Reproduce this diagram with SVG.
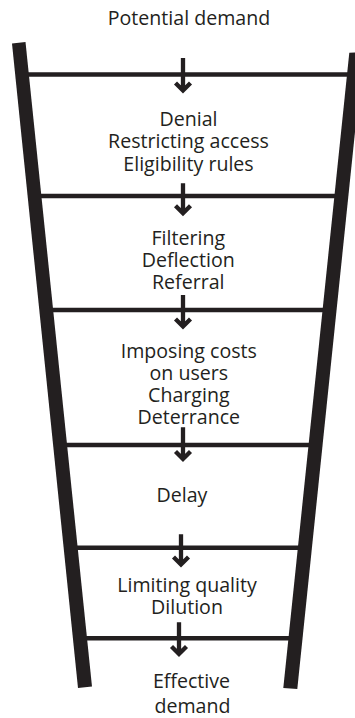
<svg xmlns="http://www.w3.org/2000/svg" width="355" height="718" viewBox="0 0 355 718">
<style>
.lbl{font-family:"Open Sans","Liberation Sans",sans-serif;font-size:19.6px;fill:#231f20;text-anchor:middle}
.rung{stroke:#231f20;stroke-width:4.5;fill:none}
.rail{fill:#231f20}
.arr{stroke:#231f20;stroke-width:4.3;fill:none;stroke-linejoin:miter;stroke-miterlimit:10}
</style>
<rect width="355" height="718" fill="#fff"/>
<g id="ladder">
<line class="rung" x1="20" y1="74.5" x2="352" y2="74.5"/>
<line class="rung" x1="35" y1="196" x2="340" y2="196"/>
<line class="rung" x1="45" y1="310" x2="328" y2="310"/>
<line class="rung" x1="60" y1="445" x2="314" y2="445"/>
<line class="rung" x1="70" y1="547.7" x2="304" y2="547.7"/>
<line class="rung" x1="80" y1="638.3" x2="296" y2="638.3"/>
<polygon class="rail" points="12,43.5 25.5,42 92,686.5 78,688"/>
<polygon class="rail" points="349.3,52.7 363.3,52 297.3,689 283.3,688"/>
</g>
<g id="connectors">
<path class="arr" d="M183,58 V90.5 M175.5,83 L183,90.5 L190.5,83"/>
<path class="arr" d="M183,183.3 V213.2 M175.5,205.7 L183,213.2 L190.5,205.7"/>
<path class="arr" d="M183,295 V326.5 M175.5,319 L183,326.5 L190.5,319"/>
<path class="arr" d="M183,427.3 V458.9 M175.5,451.4 L183,458.9 L190.5,451.4"/>
<path class="arr" d="M181,534.3 V564.5 M173.5,557 L181,564.5 L188.5,557"/>
<path class="arr" d="M179,622.3 V653.9 M171.5,646.4 L179,653.9 L186.5,646.4"/>
</g>
<g id="n-potential"><text class="lbl" x="189" y="25">Potential demand</text></g>
<g id="n-denial">
<text class="lbl" x="188.5" y="126">Denial</text>
<text class="lbl" x="188.5" y="148.3">Restricting access</text>
<text class="lbl" x="188.5" y="170.7">Eligibility rules</text>
</g>
<g id="n-filtering">
<text class="lbl" x="188.3" y="245">Filtering</text>
<text class="lbl" x="188.3" y="267.3">Deflection</text>
<text class="lbl" x="188.3" y="289.3">Referral</text>
</g>
<g id="n-costs">
<text class="lbl" x="188.8" y="357.5">Imposing costs</text>
<text class="lbl" x="188.8" y="379.5">on users</text>
<text class="lbl" x="188.8" y="401.5">Charging</text>
<text class="lbl" x="188.8" y="423.5">Deterrance</text>
</g>
<g id="n-delay"><text class="lbl" x="182" y="501.7">Delay</text></g>
<g id="n-quality">
<text class="lbl" x="187" y="592.3">Limiting quality</text>
<text class="lbl" x="187" y="613.5">Dilution</text>
</g>
<g id="n-effective">
<text class="lbl" x="191.5" y="688.3">Effective</text>
<text class="lbl" x="192.5" y="713.3">demand</text>
</g>
</svg>
